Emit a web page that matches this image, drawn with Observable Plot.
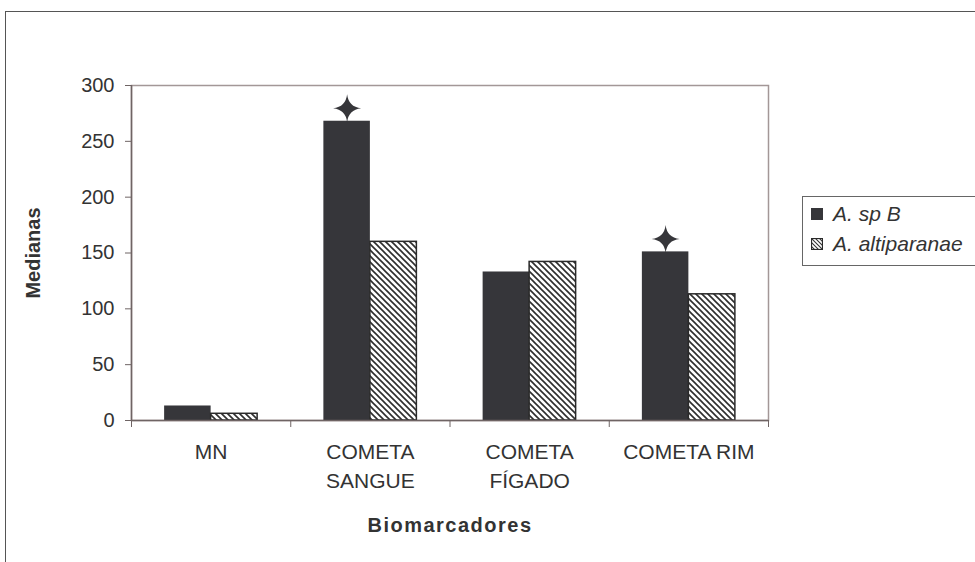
<!DOCTYPE html>
<html>
<head>
<meta charset="utf-8">
<script src="https://cdn.jsdelivr.net/npm/d3@7"></script>
<script src="https://cdn.jsdelivr.net/npm/@observablehq/plot@0.6"></script>
<style>
  html, body { margin: 0; padding: 0; background: #fff; }
  #wrap { position: relative; width: 975px; height: 562px; overflow: hidden; font-family: "Liberation Sans", Arial, sans-serif; color: #333; }
  #outer { position: absolute; left: 5px; top: 11px; width: 1100px; height: 700px; border-top: 1.5px solid #555; border-left: 1.5px solid #555; }
  #chart { position: absolute; left: 0; top: 0; }
  #legend { position: absolute; left: 802px; top: 196px; width: 300px; height: 68px; border: 1px solid #666; background: #fff; }
  .item { position: absolute; left: 8px; display: flex; align-items: center; font-style: italic; font-size: 21px; color: #333; white-space: nowrap; }
</style>
</head>
<body>
<div id="wrap">
  <div id="outer"></div>
  <svg width="0" height="0" style="position:absolute">
    <defs>
      <pattern id="hatch" patternUnits="userSpaceOnUse" width="6" height="6">
        <rect width="6" height="6" fill="#fff"></rect>
        <path d="M-1,-1L7,7M-1,5L1,7M5,-1L7,1" stroke="#2e2e2e" stroke-width="1.6"></path>
      </pattern>
      <pattern id="hatchSmall" patternUnits="userSpaceOnUse" width="4" height="4">
        <rect width="4" height="4" fill="#fff"></rect>
        <path d="M-1,-1L5,5M-1,3L1,5M3,-1L5,1" stroke="#333" stroke-width="1.1"></path>
      </pattern>
    </defs>
  </svg>
  <div id="chart"></div>
  <div id="legend"></div>
</div>
<script>
// ---- data ----
const categories = ["MN", "COMETA\nSANGUE", "COMETA\nFÍGADO", "COMETA RIM"];
const series = ["A. sp B", "A. altiparanae"];
const spB = [13, 268, 133, 151];
const altiparanae = [6, 160, 142, 113];
const starred = ["COMETA\nSANGUE", "COMETA RIM"];
const yTicks = [0, 50, 100, 150, 200, 250, 300];
const xLabel = "Biomarcadores";
const yLabel = "Medianas";

// ---- table ----
const rows = categories.map((c, i) => ({ i, cat: c, spB: spB[i], alt: altiparanae[i] }));
const starRows = rows.filter(d => starred.includes(d.cat));
const catBounds = d3.range(categories.length + 1);

const barW = 0.292; // bar width as a fraction of a category slot
const colDark = "#36363a";

const star4 = {
  draw(ctx, size) {
    const R = Math.sqrt(size / Math.PI);
    const k = 0.1 * R;
    ctx.moveTo(0, -R);
    ctx.quadraticCurveTo(k, -k, R, 0);
    ctx.quadraticCurveTo(k, k, 0, R);
    ctx.quadraticCurveTo(-k, k, -R, 0);
    ctx.quadraticCurveTo(-k, -k, 0, -R);
    ctx.closePath();
  }
};

const chart = Plot.plot({
  width: 975,
  height: 562,
  marginLeft: 131,
  marginRight: 207,
  marginTop: 85,
  marginBottom: 142,
  style: { fontFamily: "'Liberation Sans', Arial, sans-serif", color: "#333", background: "transparent" },
  x: { domain: [0, categories.length], axis: null },
  y: { domain: [0, 300], axis: null },
  marks: [
    Plot.frame({ stroke: "#a39797", strokeWidth: 1.5 }),
    Plot.rectY(rows, { x1: d => d.i + 0.5 - barW, x2: d => d.i + 0.5, y: "spB", fill: colDark }),
    Plot.rectY(rows, { x1: d => d.i + 0.5, x2: d => d.i + 0.5 + barW, y: "alt", fill: "url(#hatch)", stroke: "#2a2a2a", strokeWidth: 1.5 }),
    Plot.dot(starRows, { x: d => d.i + 0.5 - barW / 2, y: "spB", dy: -13, r: 14, symbol: star4, fill: colDark, stroke: null }),
    Plot.ruleX([0], { stroke: "#6f6464", strokeWidth: 1.5 }),
    Plot.ruleY([0], { stroke: "#6f6464", strokeWidth: 1.5 }),
    Plot.axisY({ ticks: yTicks, tickSize: 6, tickPadding: 11, fontSize: 20, label: null, stroke: "#6f6464" }),
    Plot.axisX({ ticks: catBounds, tickSize: 7, tickFormat: () => "", label: null, stroke: "#6f6464" }),
    Plot.text(rows, { x: d => d.i + 0.5, y: 0, text: "cat", dy: 18, lineAnchor: "top", lineHeight: 1.38, fontSize: 21, fill: "#333" }),
    Plot.text([xLabel], { frameAnchor: "bottom", dy: 105, lineAnchor: "middle", fontWeight: "bold", fontSize: 20, fill: "#333" }),
    Plot.text([yLabel], { frameAnchor: "left", textAnchor: "middle", rotate: -90, dx: -98, fontWeight: "bold", fontSize: 20, fill: "#333" })
  ]
});
d3.select(chart).selectAll("text").filter(function () { return this.textContent === xLabel; })
  .style("letter-spacing", "1.5px");
document.getElementById("chart").append(chart);

// ---- legend ----
const legend = document.getElementById("legend");
const swatches = [colDark, "url(#hatchSmall)"];
series.forEach((s, j) => {
  const item = document.createElement("div");
  item.className = "item";
  item.style.top = (j === 0 ? 5 : 35) + "px";
  const sw = document.createElementNS("http://www.w3.org/2000/svg", "svg");
  sw.setAttribute("width", 12); sw.setAttribute("height", 12);
  sw.style.marginRight = "10px";
  const r = document.createElementNS("http://www.w3.org/2000/svg", "rect");
  r.setAttribute("x", 0.5); r.setAttribute("y", 0.5); r.setAttribute("width", 11); r.setAttribute("height", 11);
  r.setAttribute("fill", swatches[j]);
  r.setAttribute("stroke", j === 0 ? colDark : "#2a2a2a");
  r.setAttribute("stroke-width", 1.2);
  sw.append(r);
  const t = document.createElement("span");
  t.textContent = s;
  item.append(sw, t);
  legend.append(item);
});
</script>
</body>
</html>
